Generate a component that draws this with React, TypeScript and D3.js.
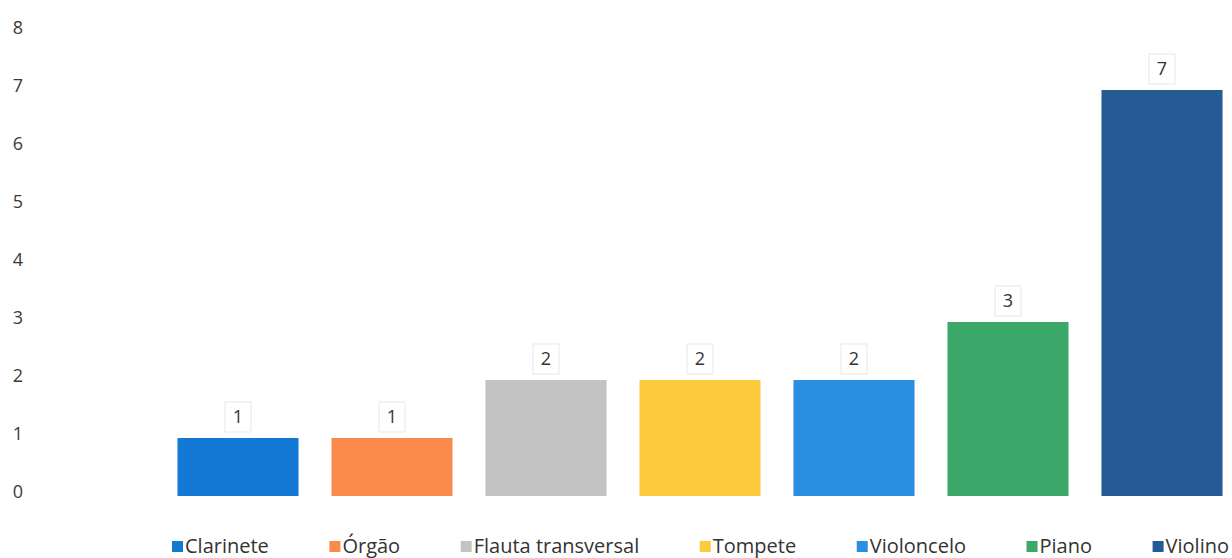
import React, { useEffect, useRef } from "react";
import * as d3 from "d3";

const categories = ["Clarinete", "Órgão", "Flauta transversal", "Tompete", "Violoncelo", "Piano", "Violino"];
const values = [1, 1, 2, 2, 2, 3, 7];
const colors = ["#1479d4", "#fb8a4c", "#c3c3c3", "#fdc93d", "#2a8fe0", "#3ba86a", "#245b95"];
const yTicks = [0, 1, 2, 3, 4, 5, 6, 7, 8];

const W = 1232;
const H = 558;
const FONT = "'Open Sans', 'Liberation Sans', sans-serif";

export default function App() {
  const ref = useRef<SVGSVGElement>(null);

  useEffect(() => {
    const svg = d3.select(ref.current);
    svg.selectAll("*").remove();

    const x = d3.scaleBand<string>().domain(categories).range([161, 1239]).paddingInner(0.214).paddingOuter(0.107);
    const y = d3.scaleLinear().domain([0, 8]).range([496, 32]);

    // y axis labels
    svg.append("g")
      .selectAll("text")
      .data(yTicks)
      .join("text")
      .attr("x", 18)
      .attr("y", (d) => y(d) - 4)
      .attr("dy", "0.35em")
      .attr("text-anchor", "middle")
      .attr("font-family", FONT)
      .attr("font-size", 18)
      .attr("fill", "#3a3a3a")
      .text((d) => d);

    // bars
    svg.append("g")
      .selectAll("rect")
      .data(values)
      .join("rect")
      .attr("x", (_, i) => x(categories[i])!)
      .attr("y", (d) => y(d))
      .attr("width", x.bandwidth())
      .attr("height", (d) => y(0) - y(d))
      .attr("fill", (_, i) => colors[i]);

    // data labels
    const lab = svg.append("g")
      .selectAll("g")
      .data(values)
      .join("g")
      .attr("transform", (d, i) => `translate(${x(categories[i])! + x.bandwidth() / 2},${y(d) - 21})`);
    lab.append("rect")
      .attr("x", -13)
      .attr("y", -15)
      .attr("width", 26)
      .attr("height", 30)
      .attr("fill", "#fff")
      .attr("stroke", "#e8e8e8")
      .attr("stroke-width", 1);
    lab.append("text")
      .attr("text-anchor", "middle")
      .attr("dy", "0.35em")
      .attr("font-family", FONT)
      .attr("font-size", 18)
      .attr("fill", "#333")
      .text((d) => d);

    // legend
    const leg = svg.append("g").attr("transform", `translate(0,546)`);
    const items = categories.map((c, i) => {
      const g = leg.append("g");
      g.append("rect").attr("x", 0).attr("y", -5).attr("width", 11).attr("height", 11).attr("fill", colors[i]);
      const t = g.append("text")
        .attr("x", 13)
        .attr("dy", "0.35em")
        .attr("font-family", FONT)
        .attr("font-size", 20)
        .attr("fill", "#333")
        .text(c);
      const w = 13 + (t.node() as SVGTextElement).getComputedTextLength();
      return { g, w };
    });
    const left = 172;
    const right = 1229;
    const total = d3.sum(items, (d) => d.w);
    const gap = (right - left - total) / (items.length - 1);
    let cx = left;
    items.forEach((it) => {
      it.g.attr("transform", `translate(${cx},0)`);
      cx += it.w + gap;
    });
  }, []);

  return (
    <svg
      ref={ref}
      width={W}
      height={H}
      style={{ position: "absolute", left: 0, top: 0, background: "#fff" }}
    />
  );
}
